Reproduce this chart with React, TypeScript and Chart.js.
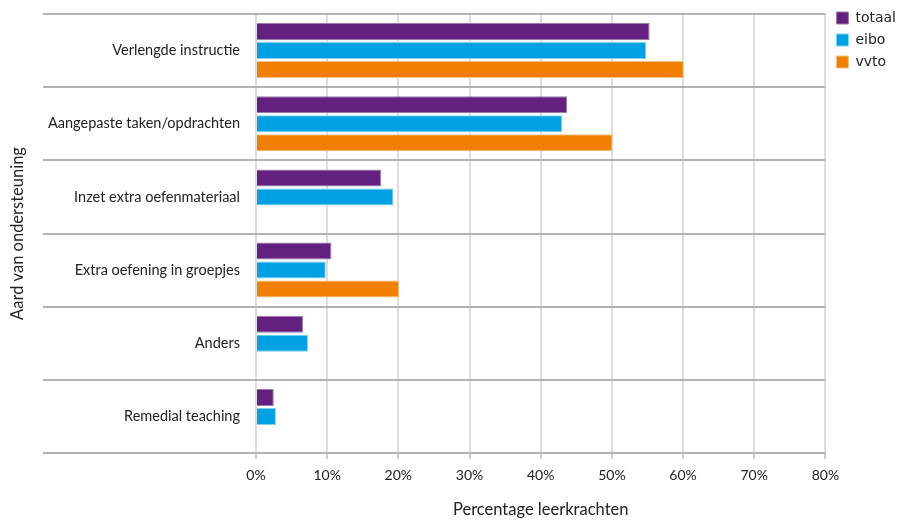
import React, { useEffect, useRef } from 'react';
import { Chart, registerables } from 'chart.js';

Chart.register(...registerables);

const categories = [
  'Verlengde instructie',
  'Aangepaste taken/opdrachten',
  'Inzet extra oefenmateriaal',
  'Extra oefening in groepjes',
  'Anders',
  'Remedial teaching',
];
const seriesNames = ['totaal', 'eibo', 'vvto'];
const totaal = [55.3, 43.7, 17.6, 10.6, 6.6, 2.5];
const eibo = [54.8, 43.0, 19.3, 9.8, 7.3, 2.8];
const vvto: (number | null)[] = [60.1, 50.1, null, 20.1, null, null];
const xMin = 0;
const xMax = 80;
const xStep = 10;
const xTitle = 'Percentage leerkrachten';
const yTitle = 'Aard van ondersteuning';

const LABEL_FONT = 'Lato';
const TEXT = '#222';

export default function App() {
  const ref = useRef<HTMLCanvasElement>(null);

  useEffect(() => {
    if (!ref.current) return;
    const chart = new Chart(ref.current, {
      type: 'bar',
      data: {
        labels: categories,
        datasets: [
          { label: seriesNames[0], data: totaal, backgroundColor: '#63207f', borderColor: '#9d7aae', borderWidth: 1 },
          { label: seriesNames[1], data: eibo, backgroundColor: '#00a1e3', borderColor: '#7fd0f1', borderWidth: 1 },
          { label: seriesNames[2], data: vvto, backgroundColor: '#f07f00', borderColor: '#f7bf80', borderWidth: 1 },
        ],
      },
      options: {
        indexAxis: 'y',
        responsive: false,
        animation: false,
        devicePixelRatio: 1,
        datasets: { bar: { categoryPercentage: 0.78, barPercentage: 0.895 } },
        layout: { padding: { top: 3, right: -7, bottom: 0, left: 0 } },
        plugins: {
          legend: {
            position: 'right',
            align: 'start',
            labels: {
              boxWidth: 12,
              boxHeight: 12,
              padding: 8,
              color: TEXT,
              font: { family: 'DejaVu Sans', size: 14 },
            },
          },
          tooltip: { enabled: false },
        },
        scales: {
          x: {
            type: 'linear',
            min: xMin,
            max: xMax,
            ticks: {
              stepSize: xStep,
              callback: (v: any) => v + '%',
              padding: 8,
              color: TEXT,
              font: { family: LABEL_FONT, size: 14 },
            },
            grid: { color: '#dedede', lineWidth: 2, tickLength: 6, tickColor: '#999', tickWidth: 1 },
            border: { display: false },
            title: {
              display: true,
              text: xTitle,
              color: TEXT,
              font: { family: LABEL_FONT, size: 16.5 },
              padding: { top: 4, bottom: 0 },
            },
            afterFit: (s: any) => { s.height = 67; },
          },
          y: {
            type: 'category',
            grid: { offset: true, color: '#b3b3b3', lineWidth: 2, tickLength: 213, tickColor: '#b3b3b3', tickWidth: 2 },
            ticks: { padding: -197, color: TEXT, font: { family: LABEL_FONT, size: 14.5 }, autoSkip: false },
            border: { display: false },
            title: {
              display: true,
              text: yTitle,
              color: TEXT,
              font: { family: LABEL_FONT, size: 16.5 },
              padding: { top: 8, bottom: 0 },
            },
            afterFit: (s: any) => { s.width = 256; },
          },
          xTop: {
            axis: 'x',
            type: 'linear',
            position: 'top',
            ticks: { display: false },
            grid: { display: false },
            border: { display: false },
            afterFit: (s: any) => { s.height = 11; },
          },
          yRight: {
            axis: 'y',
            type: 'linear',
            position: 'right',
            ticks: { display: false },
            grid: { display: false },
            border: { display: false },
            afterFit: (s: any) => { s.width = 3; },
          },
        },
      } as any,
    });
    return () => chart.destroy();
  }, []);

  return (
    <canvas
      ref={ref}
      width={899}
      height={520}
      style={{ position: 'absolute', left: 0, top: 0, width: 899, height: 520 }}
    />
  );
}
